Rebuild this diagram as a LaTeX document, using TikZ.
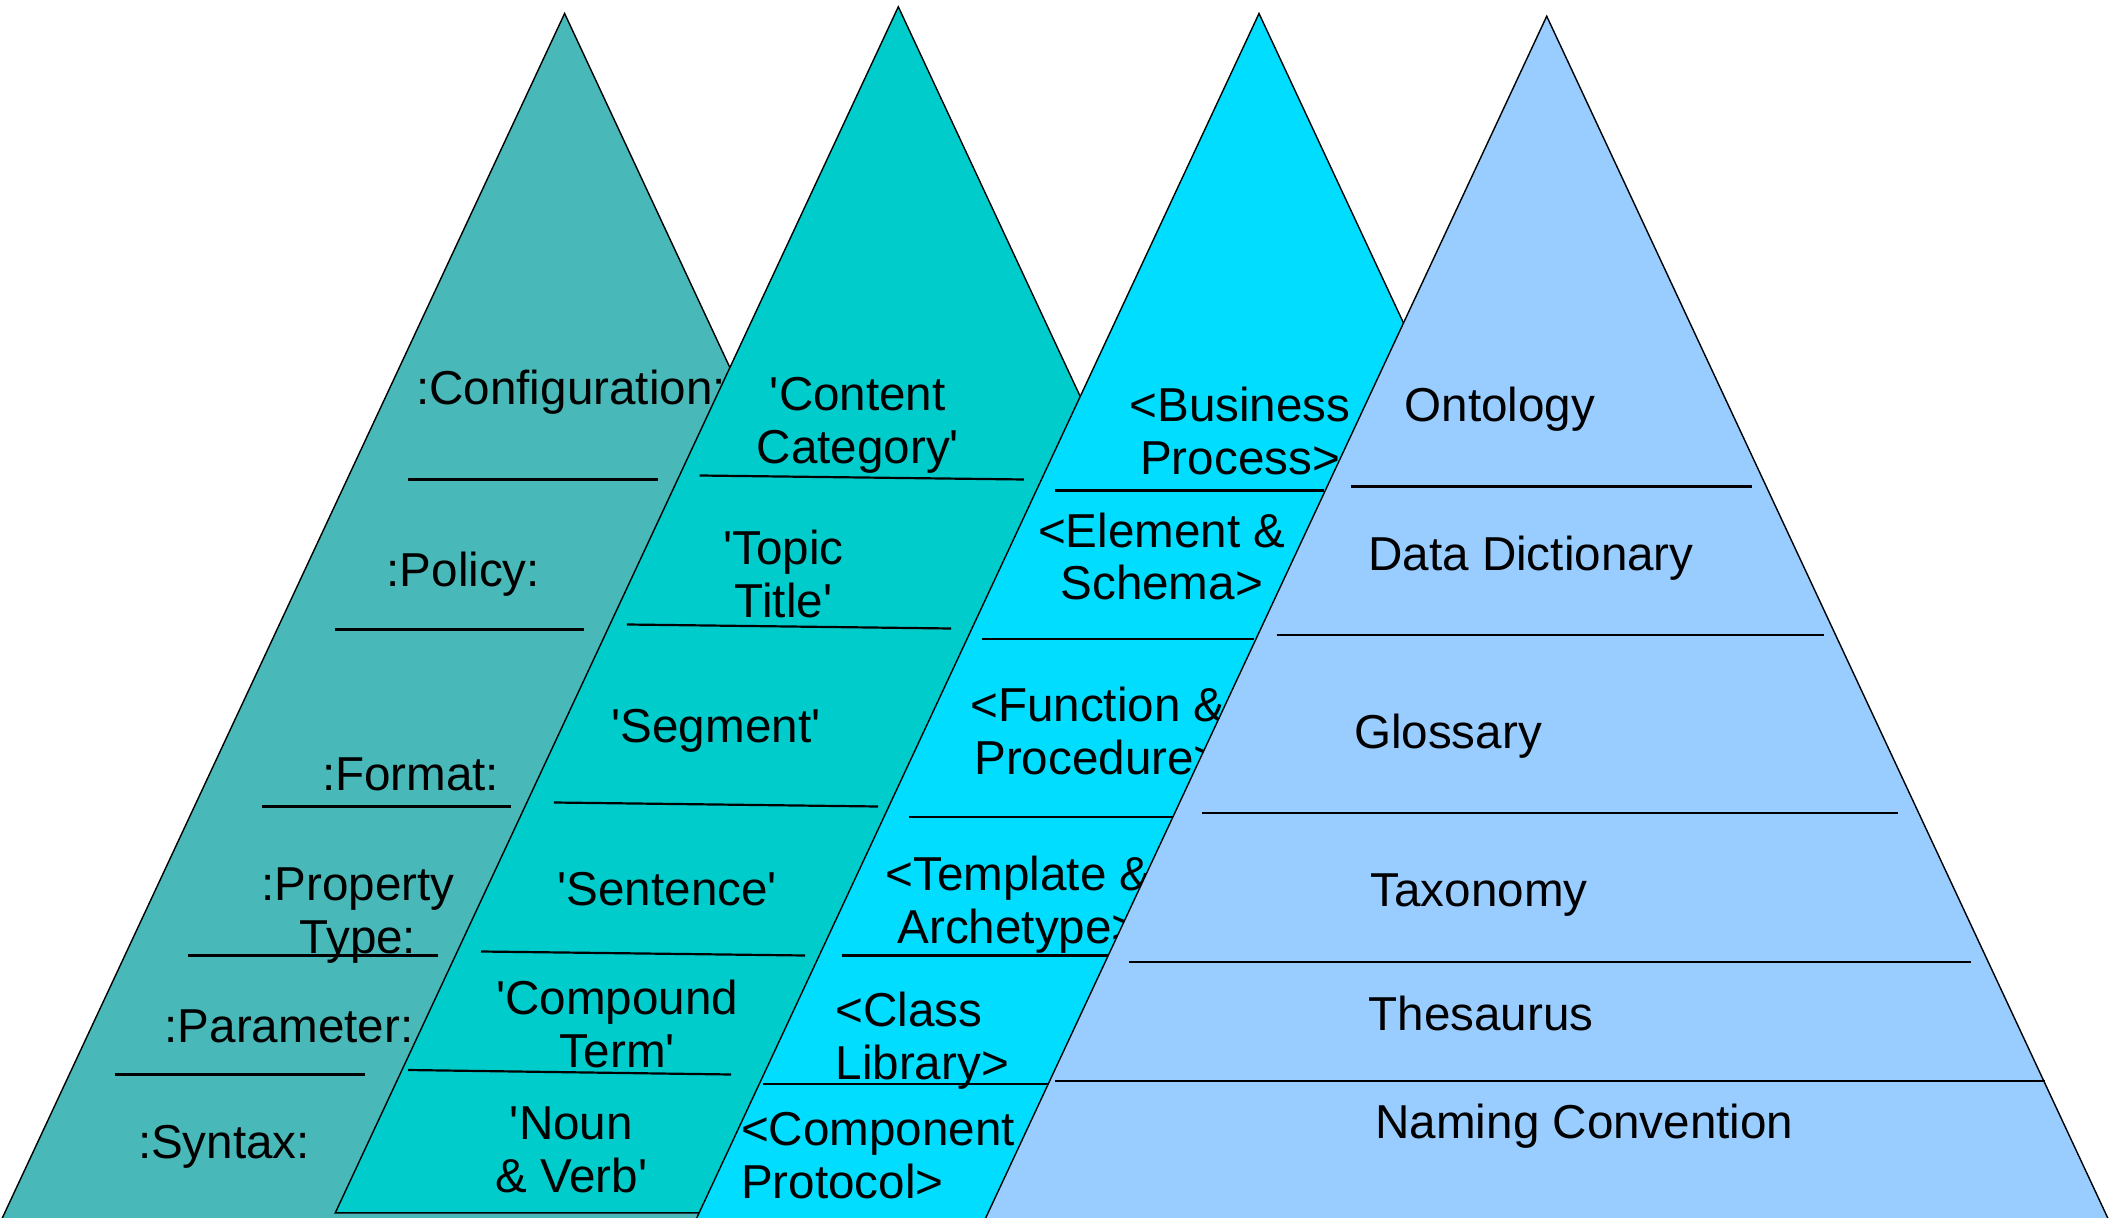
\documentclass[tikz,border=0pt]{standalone}
\usepackage{fontspec}
\setmainfont{Liberation Sans}[Ligatures=TeXOff]
\usepackage{tikz}
\usetikzlibrary{calc}

\definecolor{LayerOne}{HTML}{48B8B8}
\definecolor{LayerTwo}{HTML}{00CCCC}
\definecolor{LayerThree}{HTML}{00DDFF}
\definecolor{LayerFour}{HTML}{99CCFF}

\newcommand{\Pyramid}[2]{%
  \filldraw[pyr, fill=#2] (#1) -- ($(#1)+(-563,1206)$) -- ($(#1)+(563,1206)$) -- cycle;}

\tikzset{
  pyr/.style={draw=black, line width=0.35pt},
  rule/.style={draw=black, line width=0.55pt},
  lbl/.style={font=\fontsize{11.9}{13.2}\selectfont, inner sep=0pt, align=center, yshift=-1pt},
}

\begin{document}
\begin{tikzpicture}[x=0.25pt,y=-0.25pt]
      \useasboundingbox (0,0) rectangle (2118,1218);

      \coordinate (top1) at (564.6,13.5);
      \coordinate (top2) at (898.3,6.8);
      \coordinate (top3) at (1259,13.5);
      \coordinate (top4) at (1546.7,16.2);

      % syntax layer
      \Pyramid{top1}{LayerOne}
      \draw[rule] (408,479.5) -- (658,479.5);
      \draw[rule] (335,629.5) -- (583.5,629.5);
      \draw[rule] (262,806.5) -- (510.6,806.5);
      \draw[rule] (187.8,955.5) -- (437.7,955.5);
      \draw[rule] (114.5,1074.5) -- (364.7,1074.5);
      \node[lbl] (config) at (571,387.7) {:Configuration:};
      \node[lbl] (policy) at (463.3,570) {:Policy:};
      \node[lbl] (format) at (410.6,770) {:Format:};
      \node[lbl] (ptype) at (358,911.8) {:Property\\Type:};
      \node[lbl] (param) at (289,1022.6) {:Parameter:};
      \node[lbl] (syntax) at (224,1142.8) {:Syntax:};

      % content layer
      \Pyramid{top2}{LayerTwo}
      \draw[rule] (699.7,475.5) -- (1023.9,479.5);
      \draw[rule] (626.8,624.5) -- (951,628.5);
      \draw[rule] (553.8,802.5) -- (878,806.5);
      \draw[rule] (481,951.5) -- (805,955.5);
      \draw[rule] (408,1070) -- (731,1074.5);
      \node[lbl] (ccat) at (857.8,421.4) {'Content\\Category'};
      \node[lbl] (topic) at (783.5,570) {'Topic\\Title'};
      \node[lbl] (segment) at (716,726.7) {'Segment'};
      \node[lbl] (sentence) at (667.3,884.8) {'Sentence'};
      \node[lbl] (cterm) at (617.3,1019.9) {'Compound\\Term'};
      \node[lbl] (nounverb) at (571.4,1145.5) {'Noun\\\& Verb'};

      % component layer
      \Pyramid{top3}{LayerThree}
      \draw[rule] (1055,490.5) -- (1324,490.5);
      \draw[rule] (982,639) -- (1254,639);
      \draw[rule] (909,817) -- (1180,817);
      \draw[rule] (841.6,955.5) -- (1108,955.5);
      \draw[rule] (763,1084) -- (1048,1084);
      \node[lbl] (bproc) at (1240,426.9) {<Business\\Process>};
      \node[lbl] (elem) at (1161.7,552.5) {<Element \&\\Schema>};
      \node[lbl] (func) at (1098,726.7) {<Function \&\\Procedure>};
      \node[lbl] (tmpl) at (1018.5,901) {<Template \&\\Archetype>};
      \node[lbl, anchor=west, align=left] (clib) at (834.8,1036.7) {<Class\\Library>};
      \node[lbl, anchor=west, align=left] (comp) at (740.2,1151.6) {<Component\\Protocol>};

      % vocabulary layer
      \Pyramid{top4}{LayerFour}
      \draw[rule] (1351,486.5) -- (1752,486.5);
      \draw[rule] (1276.5,635) -- (1823.6,635);
      \draw[rule] (1202,813) -- (1898,813);
      \draw[rule] (1129,962) -- (1971,962);
      \draw[rule] (1055,1080.6) -- (2045,1080.6);
      \node[lbl] (onto) at (1500,405.2) {Ontology};
      \node[lbl] (dd) at (1531,553.8) {Data Dictionary};
      \node[lbl] (gloss) at (1448,732) {Glossary};
      \node[lbl] (taxo) at (1479,891.5) {Taxonomy};
      \node[lbl] (thes) at (1481,1009) {Thesaurus};
      \node[lbl] (naming) at (1584.5,1122.5) {Naming Convention};
\end{tikzpicture}
\end{document}
